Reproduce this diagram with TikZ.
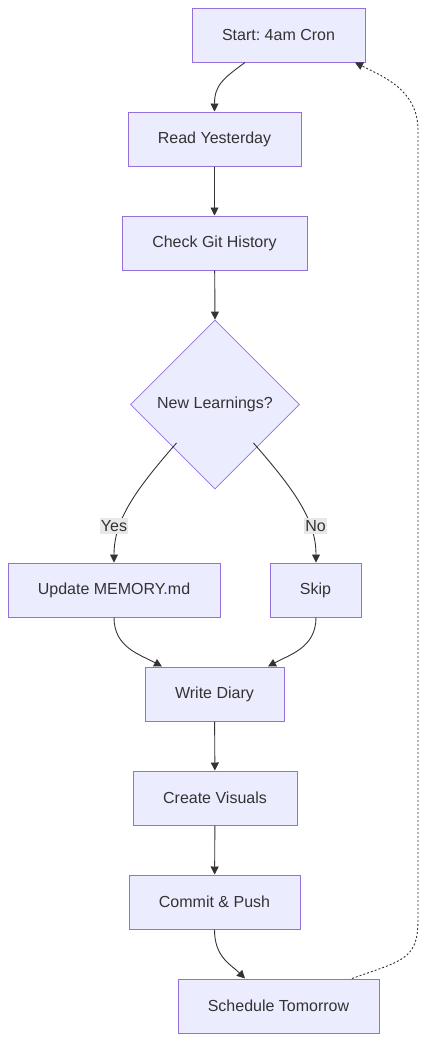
\documentclass[tikz,border=0pt]{standalone}
\usepackage{fontspec}
\setmainfont{Liberation Sans}
\usetikzlibrary{shapes.geometric,arrows.meta,calc}
\definecolor{nodefill}{HTML}{ECECFF}
\definecolor{nodeline}{HTML}{9370DB}
\definecolor{txt}{HTML}{333333}
\definecolor{edge}{HTML}{333333}
\definecolor{lblbg}{HTML}{E8E8E8}
\frenchspacing
\tikzset{
  box/.style={draw=nodeline, fill=nodefill, line width=1pt, text=txt,
    minimum height=54pt, inner xsep=0pt, font=\fontsize{16}{19}\selectfont},
  decision/.style={draw=nodeline, fill=nodefill, line width=0.8pt, text=txt,
    diamond, aspect=1, minimum width=169pt, minimum height=169pt, inner sep=0pt,
    font=\fontsize{16}{19}\selectfont},
  conn/.style={draw=edge, line width=0.9pt, -{Triangle[length=8pt,width=8pt]}},
  loopconn/.style={draw=edge, line width=0.9pt, dash pattern=on 2pt off 2pt,
    -{Triangle[length=8pt,width=8pt]}},
  lbl/.style={fill=lblbg, text=txt, inner xsep=1pt, inner ysep=2pt,
    font=\fontsize{16}{19}\selectfont}
}
\begin{document}
\begin{tikzpicture}[x=1pt,y=-1pt]
\useasboundingbox (0,0) rectangle (428,1042);
\node[box, minimum width=173pt] (start) at (278.5,35) {Start: 4am Cron};
\node[box, minimum width=173pt] (read) at (214.5,139) {Read Yesterday};
\node[box, minimum width=185pt] (git) at (214.5,243) {Check Git History};
\node[decision] (dec) at (215,404.5) {New Learnings?};
\node[box, minimum width=212pt] (upd) at (114,590) {Update MEMORY.md};
\node[box, minimum width=91pt] (skip) at (315.5,590) {Skip};
\node[box, minimum width=139pt] (diary) at (214.5,694) {Write Diary};
\node[box, minimum width=164pt] (vis) at (215,798) {Create Visuals};
\node[box, minimum width=171pt] (commit) at (214.5,902) {Commit \& Push};
\node[box, minimum width=201pt] (sched) at (278.5,1006) {Schedule Tomorrow};

\draw[conn] ([xshift=-33.5pt]start.south) .. controls +(-22,16) and +(0,-26) .. (read.north);
\draw[conn] (read) -- (git);
\draw[conn] (git) -- (dec.north);
\draw[conn] ([xshift=4pt,yshift=4pt]dec.south west) .. controls +(-42,48) and +(0,-42) .. (upd.north);
\draw[conn] ([xshift=-4pt,yshift=4pt]dec.south east) .. controls +(42,48) and +(0,-42) .. ([xshift=0.5pt]skip.north);
\node[lbl] (yes) at (114,526) {Yes};
\node[lbl] (no) at (315.5,526) {No};
\draw[conn] (upd.south) .. controls +(0,30) and +(-22,-12) .. ([xshift=-52.5pt]diary.north);
\draw[conn] ([xshift=0.5pt]skip.south) .. controls +(0,30) and +(22,-12) .. ([xshift=53.5pt]diary.north);
\draw[conn] (diary) -- (vis);
\draw[conn] (vis) -- (commit);
\draw[conn] (commit.south) .. controls +(0,28) and +(-14,-14) .. ([xshift=-33.5pt]sched.north);
\draw[loopconn] ([xshift=73.5pt]sched.north) .. controls +(50,-18) and +(0,40) .. (418,920) -- (418,130) .. controls +(0,-40) and +(28,14) .. ([xshift=76.5pt]start.south);
\end{tikzpicture}
\end{document}
